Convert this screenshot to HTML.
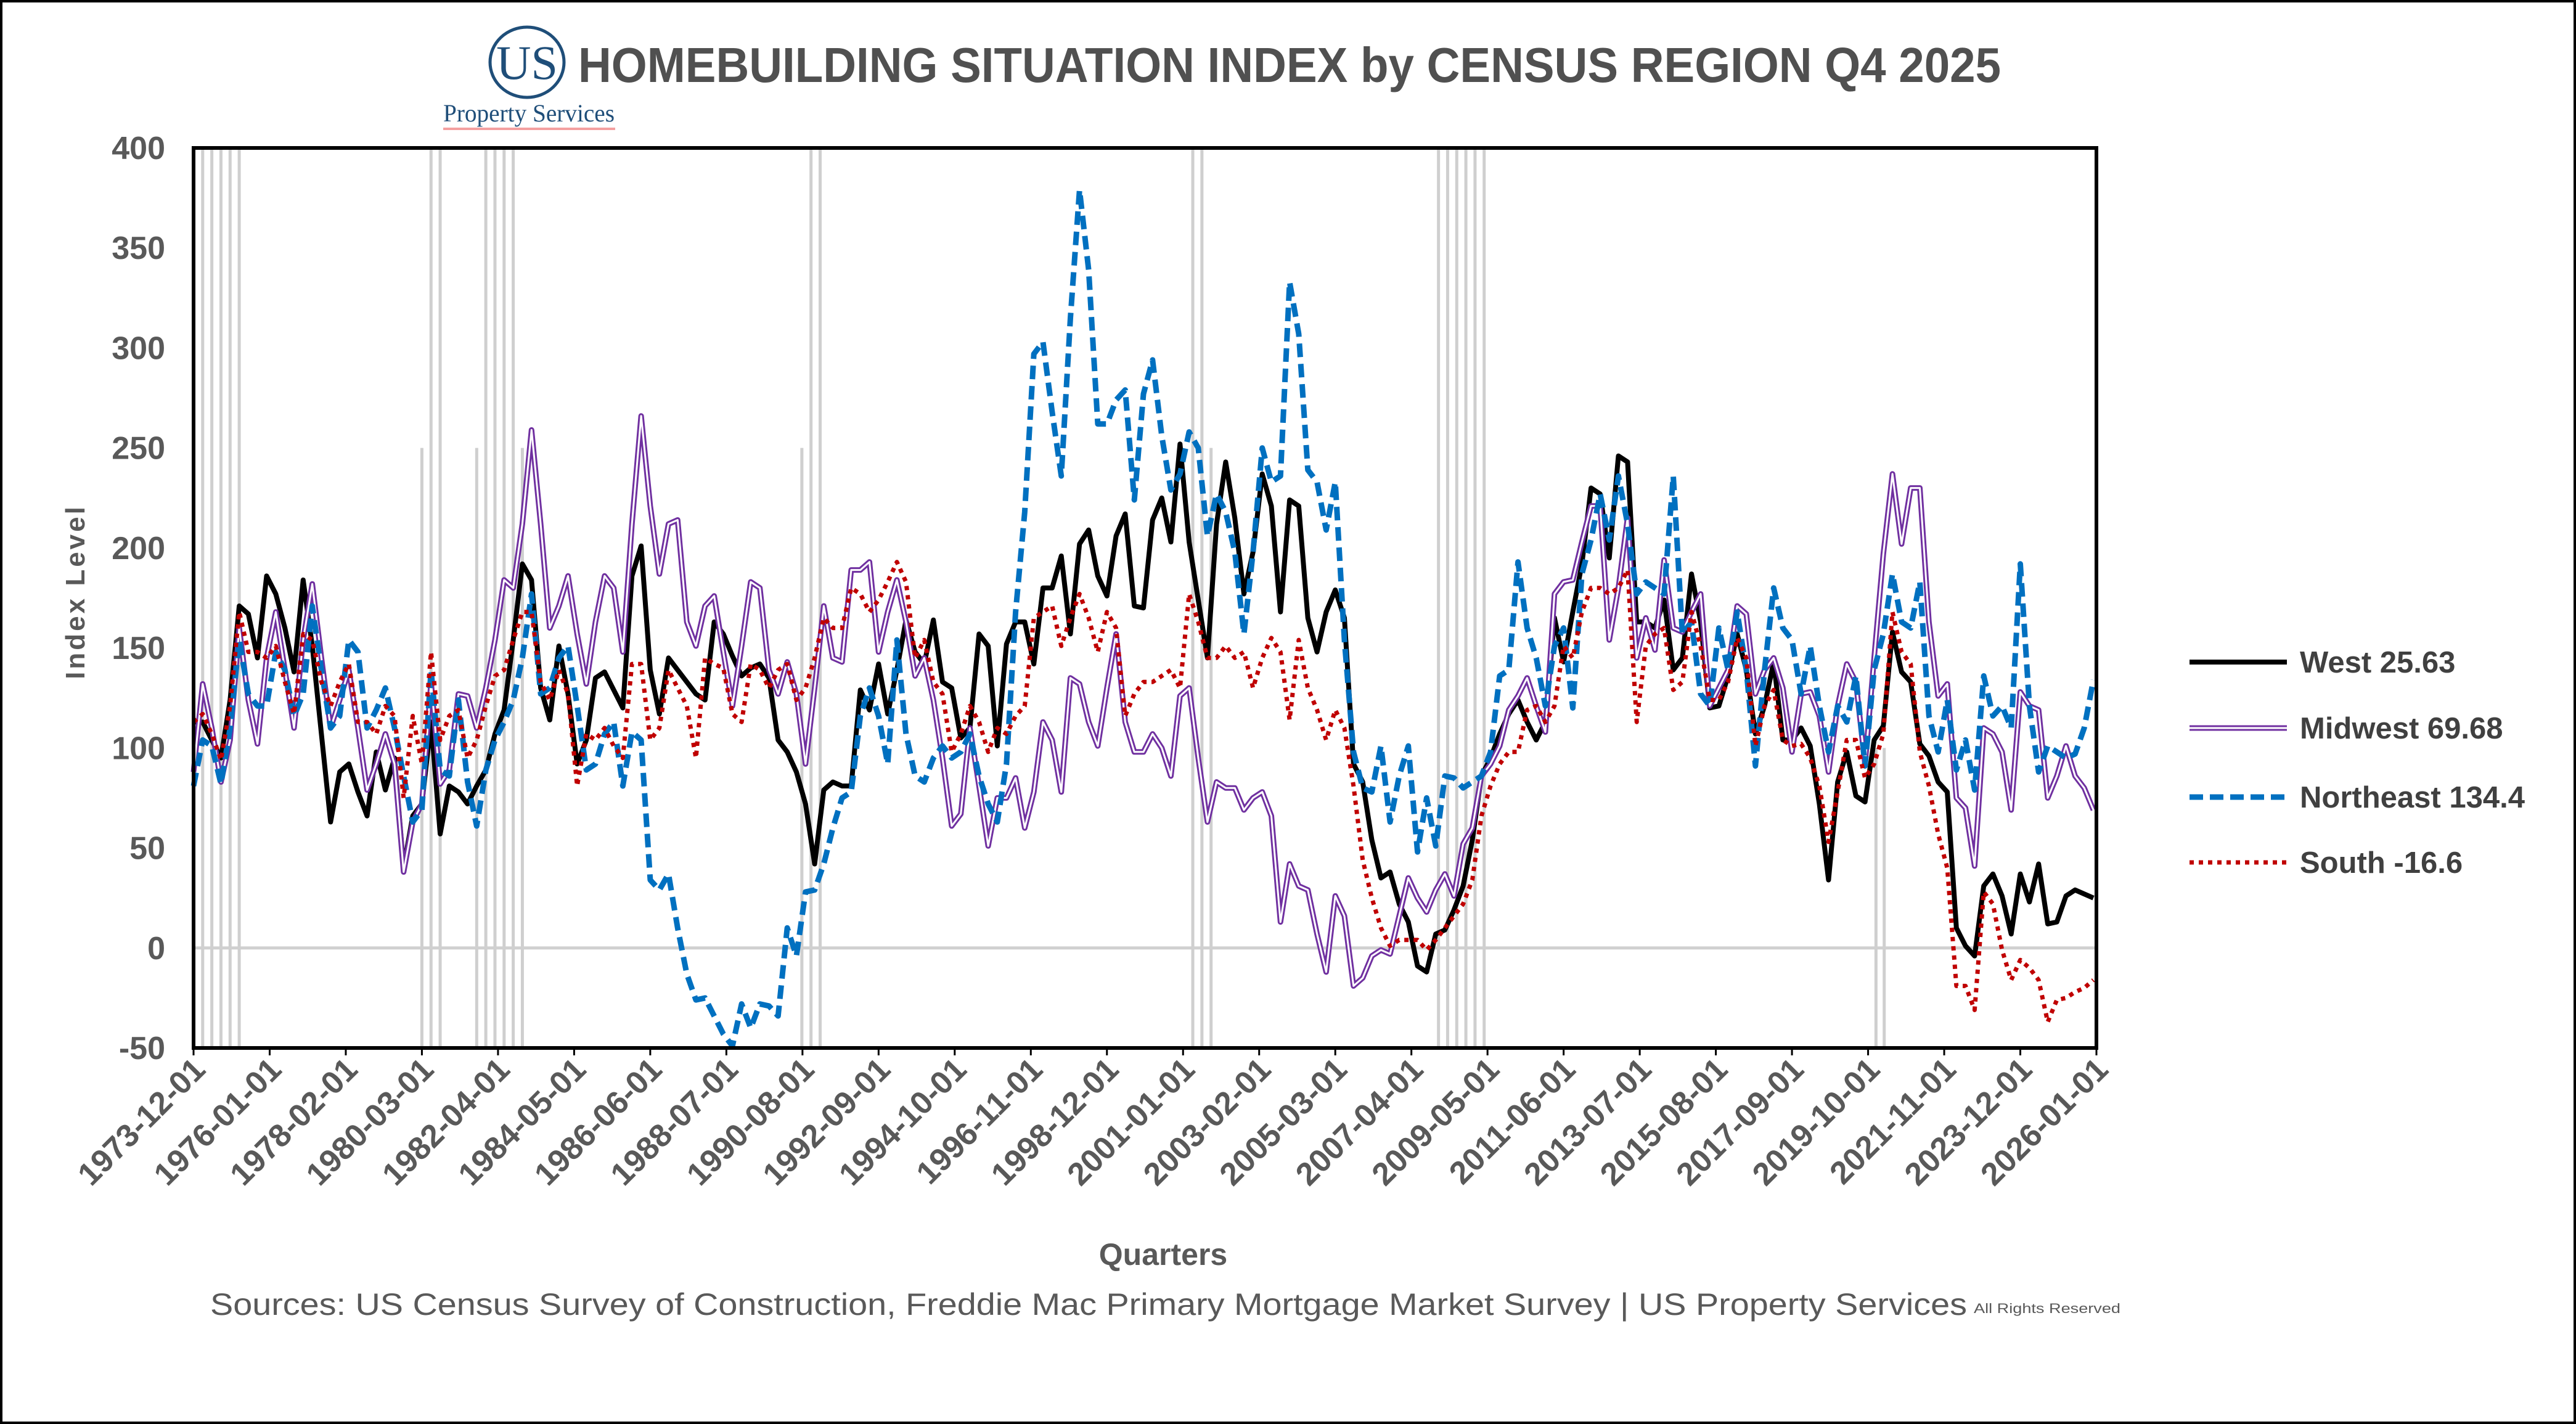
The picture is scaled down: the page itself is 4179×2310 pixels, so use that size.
<!DOCTYPE html>
<html><head><meta charset="utf-8"><title>Homebuilding Situation Index</title>
<style>
html,body{margin:0;padding:0;background:#fff;}
svg{display:block;}
text{font-family:"Liberation Sans",sans-serif;}
</style></head>
<body>
<svg id="chart" width="4179" height="2310" viewBox="0 0 4179 2310" xmlns="http://www.w3.org/2000/svg">
<rect x="2" y="2" width="4175" height="2306" fill="#fff" stroke="#000" stroke-width="4"/>
<g>
<ellipse cx="855" cy="101" rx="60" ry="57" fill="none" stroke="#1F4E79" stroke-width="5"/>
<text x="855" y="128" text-anchor="middle" font-size="78" fill="#1F4E79" style="font-family:'Liberation Serif',serif">US</text>
<text x="858" y="197" text-anchor="middle" font-size="40" fill="#1F4E79" style="font-family:'Liberation Serif',serif" textLength="278" lengthAdjust="spacingAndGlyphs">Property Services</text>
<rect x="719" y="207" width="279" height="4" fill="#F4A0A0"/>
</g>
<text x="938" y="133" font-size="80" font-weight="bold" fill="#505050" textLength="2308" lengthAdjust="spacingAndGlyphs">HOMEBUILDING SITUATION INDEX by CENSUS REGION Q4 2025</text>
<g id="recessions"></g>
<g id="grid"></g>
<g id="series"></g>
<rect x="314" y="240" width="3087" height="1460" fill="none" stroke="#000" stroke-width="6"/>
<g id="yaxis"></g>
<g id="xaxis"></g>
<text transform="translate(137,960) rotate(-90)" text-anchor="middle" font-size="44" font-weight="bold" fill="#595959" letter-spacing="4">Index Level</text>
<text x="1887" y="2052" text-anchor="middle" font-size="50" font-weight="bold" fill="#595959">Quarters</text>
<text x="341" y="2133" font-size="50" fill="#595959" textLength="2850" lengthAdjust="spacingAndGlyphs">Sources: US Census Survey of Construction, Freddie Mac Primary Mortgage Market Survey | US Property Services</text>
<text x="3202" y="2130" font-size="22" fill="#595959" textLength="238" lengthAdjust="spacingAndGlyphs">All Rights Reserved</text>
<g id="legend"></g>
</svg>
<script>
const seriesNames = ["West 25.63","Midwest 69.68","Northeast 134.4","South -16.6"];
const yTicks = [400,350,300,250,200,150,100,50,0,-50];
const xTickLabels = ["1973-12-01","1976-01-01","1978-02-01","1980-03-01","1982-04-01","1984-05-01","1986-06-01","1988-07-01","1990-08-01","1992-09-01","1994-10-01","1996-11-01","1998-12-01","2001-01-01","2003-02-01","2005-03-01","2007-04-01","2009-05-01","2011-06-01","2013-07-01","2015-08-01","2017-09-01","2019-10-01","2021-11-01","2023-12-01","2026-01-01"];
const recessionQuarters = [1,2,3,4,5,25,26,27,31,32,33,34,35,36,66.6,67.6,68.6,109.4,110.4,111.4,136.3,137.3,138.3,139.3,140.3,141.3,184.2,185.1];
const recessionTops = [400,400,400,400,400,250,400,400,250,400,400,400,400,250,250,400,400,400,400,250,400,400,400,400,400,400,100,100];
const west = [113,113,104,95,124,171,167,145,186,177,160,138,184,151,107,63,88,92,78,66,98,79,95,40,66,72,113,57,81,78,72,81,89,107,119,154,192,184,130,114,151,127,92,104,135,138,129,120,186,201,139,117,145,
139,133,127,124,163,157,146,136,140,142,135,104,98,88,72,42,79,83,81,81,129,119,142,117,139,164,148,142,164,133,130,105,110,157,151,101,152,163,163,142,180,180,196,157,202,209,186,176,206,217,171,170,214,
225,203,252,203,174,145,212,243,215,177,198,237,221,168,224,221,165,148,168,179,165,92,83,54,35,38,22,13,-9,-12,7,9,19,31,54,86,95,107,117,124,113,104,113,165,143,168,192,230,227,195,246,243,
163,163,160,174,139,145,187,163,120,121,136,157,139,107,121,143,104,104,110,101,72,34,83,98,76,73,104,111,158,138,133,102,96,83,78,10,1,-4,31,37,26,7,37,23,42,12,13,26,29,27,25];
const midwest = [88,132,110,83,104,160,124,102,145,168,139,110,154,182,145,110,124,139,110,79,92,107,92,38,63,72,133,82,89,127,126,110,130,154,184,180,212,259,212,160,171,186,157,132,163,186,180,148,212,266,221,187,212,
214,163,151,171,176,148,121,151,183,180,139,127,143,127,92,130,171,145,143,189,189,193,148,168,184,163,136,145,124,95,61,67,110,81,51,75,75,85,60,78,113,104,78,135,132,113,101,130,157,113,98,98,107,
100,86,126,130,95,63,83,80,80,69,75,78,66,13,42,31,29,7,-12,26,16,-19,-15,-4,-1,-3,16,35,25,18,29,37,26,52,60,86,92,101,119,126,135,121,108,177,183,184,203,221,221,154,180,215,
145,165,149,194,160,158,168,177,121,130,139,171,167,127,139,145,130,98,127,128,116,88,121,142,133,92,145,197,237,202,230,230,163,126,132,75,70,41,110,107,98,69,128,121,119,75,86,101,86,80,69];
const northeast = [81,104,101,82,110,154,127,121,121,148,139,116,127,171,139,110,116,154,148,110,119,130,110,86,63,69,139,89,86,124,83,61,89,104,113,124,145,177,127,130,145,151,121,89,92,107,113,81,108,104,34,29,37,
10,-13,-26,-25,-34,-43,-49,-28,-40,-28,-29,-34,10,-4,28,29,42,60,75,78,116,130,116,92,154,107,86,83,95,101,95,98,107,86,72,63,92,168,218,297,303,268,236,315,379,339,262,262,274,279,224,277,294,
256,229,237,258,250,206,227,218,198,157,198,250,233,236,333,307,239,233,209,233,154,98,80,78,101,63,86,101,48,75,51,86,85,80,83,86,98,136,139,193,160,145,121,151,160,120,187,204,227,204,236,212,
177,183,180,177,236,157,163,127,121,160,139,168,139,91,139,180,160,154,127,151,121,98,121,113,136,91,139,157,187,163,160,183,116,98,124,89,104,79,136,116,121,110,192,121,88,101,98,95,97,110,134];
const south = [113,117,107,94,121,168,148,148,145,151,133,117,157,154,133,121,133,142,113,113,107,121,116,75,116,92,148,104,116,119,95,104,121,136,139,154,168,168,133,124,139,127,81,107,104,110,101,95,142,142,104,110,139,
130,121,95,145,142,140,117,113,142,139,130,139,142,124,130,145,165,160,160,180,177,168,174,183,193,183,145,154,133,127,98,107,121,113,98,110,107,116,121,165,168,171,151,165,177,165,148,168,160,116,127,133,133,
136,139,130,177,163,145,145,151,145,148,130,145,155,148,114,154,130,119,104,119,110,81,44,25,10,1,4,4,4,-1,4,10,16,22,34,66,81,92,98,98,119,121,113,121,151,145,168,180,180,177,180,189,
113,151,157,160,129,133,168,151,124,124,133,155,145,101,121,129,104,101,102,95,81,53,78,104,104,85,92,107,168,148,142,98,81,57,40,-19,-19,-31,28,22,-1,-16,-6,-10,-16,-37,-26,-25,-22,-20,-16];

const NS="http://www.w3.org/2000/svg";
const PL=314, PR=3401, PT=240, PB=1700, YMAX=400, YMIN=-50, TOTAL_MONTHS=625;
function yScale(v){return PB-(v-YMIN)/(YMAX-YMIN)*(PB-PT);}
function xMonth(m){return PL+m/TOTAL_MONTHS*(PR-PL);}
function xQuarter(i){return xMonth(i*3);}
function mk(tag,attrs,parent){const e=document.createElementNS(NS,tag);for(const k in attrs)e.setAttribute(k,attrs[k]);parent.appendChild(e);return e;}

const rg=document.getElementById('recessions');
recessionQuarters.forEach((q,k)=>{
  const l=mk('line',{x1:xQuarter(q),x2:xQuarter(q),y1:PB,y2:yScale(recessionTops[k]),stroke:'#cfcfcf','stroke-width':5},rg);
  
  
});
const zl=mk('line',{x1:PL,x2:PR,y1:yScale(0),y2:yScale(0),stroke:'#d0d0d0','stroke-width':5},document.getElementById('grid'));



function pts(arr){return arr.map((v,i)=>xQuarter(i).toFixed(1)+','+yScale(v).toFixed(1)).join(' ');}
const sg=document.getElementById('series');
const wl=mk('polyline',{points:pts(west),fill:'none',stroke:'#000','stroke-width':8,'stroke-linejoin':'round'},sg);


const ml=mk('polyline',{points:pts(midwest),fill:'none',stroke:'#7030A0','stroke-width':9,'stroke-linejoin':'round'},sg);


const mi=mk('polyline',{points:pts(midwest),fill:'none',stroke:'#fff','stroke-width':3,'stroke-linejoin':'round'},sg);


const nl=mk('polyline',{points:pts(northeast),fill:'none',stroke:'#0070C0','stroke-width':9,'stroke-dasharray':'22 11','stroke-linejoin':'round'},sg);


const sl=mk('polyline',{points:pts(south),fill:'none',stroke:'#C00000','stroke-width':7,'stroke-dasharray':'7 8','stroke-linejoin':'round'},sg);



const ya=document.getElementById('yaxis');
yTicks.forEach(v=>{
  const t=mk('text',{x:268,y:yScale(v)+18,'text-anchor':'end','font-size':52,'font-weight':'bold',fill:'#595959'},ya);
  t.textContent=v;
  
  
});
const xa=document.getElementById('xaxis');
xTickLabels.forEach((lab,k)=>{
  const x=xMonth(k*25);
  const tk=mk('line',{x1:x,x2:x,y1:PB,y2:PB+12,stroke:'#000','stroke-width':3},xa);
  
  
  const t=mk('text',{transform:'translate('+(x+22)+','+(PB+38)+') rotate(-45)','text-anchor':'end','font-size':52,'font-weight':'bold',fill:'#595959'},xa);
  t.textContent=lab;
  
  
});

const lg=document.getElementById('legend');
const legY=[1074,1181,1293,1399];
const legStyles=[{stroke:'#000',w:8,d:''},{stroke:'#7030A0',w:9,d:''},{stroke:'#0070C0',w:9,d:'22 11'},{stroke:'#C00000',w:7,d:'7 8'}];
seriesNames.forEach((nm,k)=>{
  const s=legStyles[k];
  const l=mk('line',{x1:3552,x2:3710,y1:legY[k],y2:legY[k],stroke:s.stroke,'stroke-width':s.w},lg);
  if(s.d) l.setAttribute('stroke-dasharray',s.d);
  
  
  if(k===1){
    const w=mk('line',{x1:3552,x2:3710,y1:legY[k],y2:legY[k],stroke:'#fff','stroke-width':3},lg);
    
    
  }
  const t=mk('text',{x:3731,y:legY[k]+17,'font-size':49,'font-weight':'bold',fill:'#404040'},lg);
  t.textContent=nm;
  
  
});
</script>
</body></html>
